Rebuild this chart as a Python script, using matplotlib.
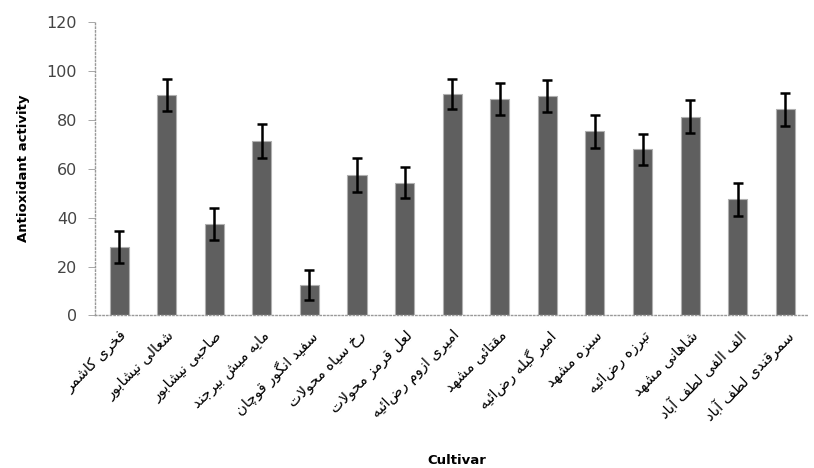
import numpy as np
from matplotlib import pyplot as plt

cultivars = ['فخری کاشمر', 'شعالی نیشابور', 'صاحبی نیشابور', 'مایه میش بیرجند',
             'سفید انگور قوچان', 'رخ سیاه محولات', 'لعل قرمز محولات', 'امیری ازوم رضائیه',
             'مقتائی مشهد', 'امیر گیله رضائیه', 'سبزه مشهد', 'تبرزه رضائیه',
             'شاهانی مشهد', 'الف الفی لطف آباد', 'سمرقندی لطف آباد']
activity = [27.9, 90.2, 37.5, 71.4, 12.5, 57.5, 54.3, 90.6, 88.5, 89.8, 75.3, 68.0, 81.3, 47.5, 84.3]
errors = [6.6, 6.5, 6.5, 7.0, 6.1, 7.0, 6.2, 6.1, 6.5, 6.5, 6.7, 6.4, 6.6, 6.8, 6.7]

# presentation forms: isolated, final, initial, medial (right-joining letters have only two)
FORMS = {
    'ا': (0xFE8D, 0xFE8E), 'آ': (0xFE81, 0xFE82), 'د': (0xFEA9, 0xFEAA),
    'ر': (0xFEAD, 0xFEAE), 'ز': (0xFEAF, 0xFEB0), 'و': (0xFEED, 0xFEEE),
    'ب': (0xFE8F, 0xFE90, 0xFE91, 0xFE92), 'ت': (0xFE95, 0xFE96, 0xFE97, 0xFE98),
    'ج': (0xFE9D, 0xFE9E, 0xFE9F, 0xFEA0), 'ح': (0xFEA1, 0xFEA2, 0xFEA3, 0xFEA4),
    'خ': (0xFEA5, 0xFEA6, 0xFEA7, 0xFEA8), 'س': (0xFEB1, 0xFEB2, 0xFEB3, 0xFEB4),
    'ش': (0xFEB5, 0xFEB6, 0xFEB7, 0xFEB8), 'ص': (0xFEB9, 0xFEBA, 0xFEBB, 0xFEBC),
    'ط': (0xFEC1, 0xFEC2, 0xFEC3, 0xFEC4), 'ع': (0xFEC9, 0xFECA, 0xFECB, 0xFECC),
    'ف': (0xFED1, 0xFED2, 0xFED3, 0xFED4), 'ق': (0xFED5, 0xFED6, 0xFED7, 0xFED8),
    'ل': (0xFEDD, 0xFEDE, 0xFEDF, 0xFEE0), 'م': (0xFEE1, 0xFEE2, 0xFEE3, 0xFEE4),
    'ن': (0xFEE5, 0xFEE6, 0xFEE7, 0xFEE8), 'ه': (0xFEE9, 0xFEEA, 0xFEEB, 0xFEEC),
    'ئ': (0xFE89, 0xFE8A, 0xFE8B, 0xFE8C), 'ی': (0xFBFC, 0xFBFD, 0xFBFE, 0xFBFF),
    'ک': (0xFB8E, 0xFB8F, 0xFB90, 0xFB91), 'گ': (0xFB92, 0xFB93, 0xFB94, 0xFB95),
    'چ': (0xFB7A, 0xFB7B, 0xFB7C, 0xFB7D),
}

def shape(text):
    # join letters into presentation forms, then reverse for LTR drawing
    out = []
    chars = list(text)
    i = 0
    while i < len(chars):
        c = chars[i]
        if c not in FORMS:
            out.append(c); i += 1; continue
        prev = chars[i - 1] if i > 0 else None
        joins_prev = prev in FORMS and len(FORMS[prev]) == 4
        if c == 'ل' and i + 1 < len(chars) and chars[i + 1] == 'ا':
            out.append(chr(0xFEFC if joins_prev else 0xFEFB)); i += 2; continue
        nxt = chars[i + 1] if i + 1 < len(chars) else None
        joins_next = len(FORMS[c]) == 4 and nxt in FORMS
        f = FORMS[c]
        if joins_prev and joins_next: out.append(chr(f[3]))
        elif joins_prev: out.append(chr(f[1]))
        elif joins_next: out.append(chr(f[2]))
        else: out.append(chr(f[0]))
        i += 1
    return ''.join(reversed(out))

fig = plt.figure(figsize=(8.14, 4.68), dpi=100)
ax = fig.add_axes([0.117, 0.326, 0.877, 0.627])

x = np.arange(len(cultivars))
ax.bar(x, activity, width=0.4, color='#5f5f5f', edgecolor='#b0b0b0', linewidth=0.8, zorder=2)
ax.errorbar(x, activity, yerr=errors, fmt='none', ecolor='black', elinewidth=1.8,
            capsize=3.6, capthick=1.8, zorder=3)

ax.set_xlim(-0.5, len(cultivars) - 0.5)
ax.set_ylim(0, 120)
ax.set_yticks(range(0, 121, 20))
ax.set_xticks(x)
ax.set_xticklabels([shape(c) for c in cultivars], rotation=45, ha='right', va='top',
                   rotation_mode='anchor', fontsize=10.5, family='DejaVu Sans')
ax.tick_params(axis='x', length=0, pad=9)
ax.tick_params(axis='y', length=5, color='#999999', labelsize=11.5, labelcolor='#444444',
               width=0.6, pad=8)

for s in ['top', 'right']:
    ax.spines[s].set_visible(False)
for s in ['left', 'bottom']:
    ax.spines[s].set_color('#999999')
    ax.spines[s].set_linestyle(':')
    ax.spines[s].set_linewidth(1)

ax.set_ylabel('Antioxidant activity', fontsize=9.5, fontweight='bold', labelpad=12)
fig.text(0.561, 0.003, 'Cultivar', fontsize=9.5, fontweight='bold', ha='center', va='bottom')

fig.savefig('out.png', dpi=100)
